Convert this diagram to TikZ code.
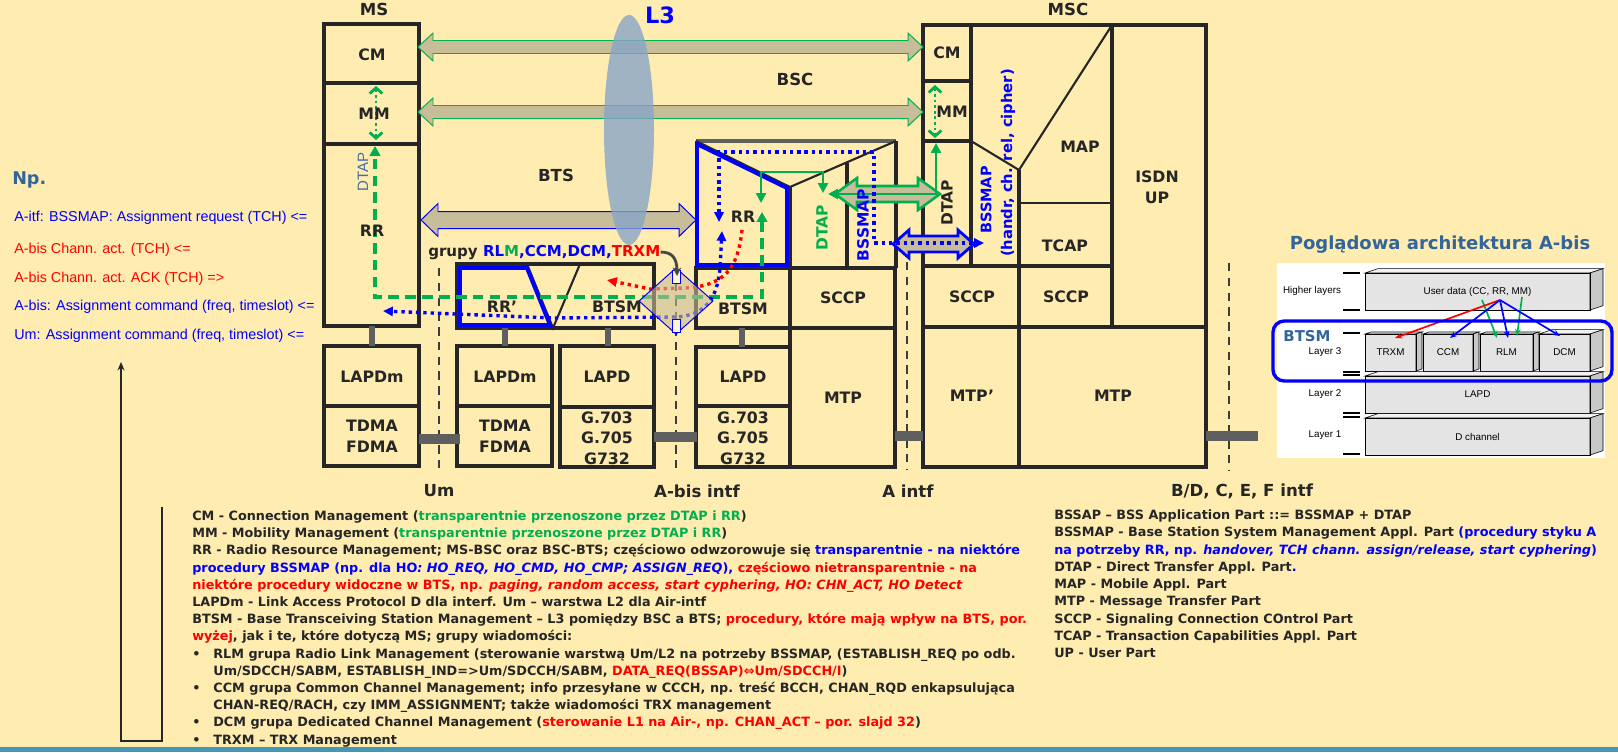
\documentclass[tikz,border=0pt]{standalone}
\usepackage{fontspec}
\setmainfont{DejaVu Sans}[BoldFont={DejaVu Sans Bold},ItalicFont={DejaVu Sans Oblique},BoldItalicFont={DejaVu Sans Bold Oblique}]
\newfontfamily\arialfont{Liberation Sans}
\usepackage{tikz}
\usetikzlibrary{arrows.meta}
\definecolor{bgy}{RGB}{255,236,176}
\definecolor{inkdark}{RGB}{38,38,38}
\definecolor{arrfill}{RGB}{199,189,152}
\definecolor{sgreen}{RGB}{0,176,80}
\definecolor{sblue}{RGB}{0,0,255}
\definecolor{sred}{RGB}{255,0,0}
\definecolor{steel}{RGB}{49,101,155}
\definecolor{lensblue}{RGB}{135,165,200}
\definecolor{bargray}{RGB}{95,95,95}
\definecolor{tealbar}{RGB}{70,150,180}
\definecolor{archfront}{RGB}{228,228,228}
\definecolor{archtop}{RGB}{242,242,242}
\definecolor{archside}{RGB}{200,200,200}
\definecolor{dtapgray}{RGB}{70,110,165}
% fat double arrow: [style]{x1}{x2}{y}{shaft half}{head half}{head length}
\newcommand{\dblarrow}[7][]{%
  \draw[#1] (#2,#4) -- ({#2+#7},{#4-#6}) -- ({#2+#7},{#4-#5}) -- ({#3-#7},{#4-#5})
    -- ({#3-#7},{#4-#6}) -- (#3,#4) -- ({#3-#7},{#4+#6}) -- ({#3-#7},{#4+#5})
    -- ({#2+#7},{#4+#5}) -- ({#2+#7},{#4+#6}) -- cycle;}
% 3d block of the A-bis figure: {x1}{y1}{x2}{y2}{depth}{name}{text}
\newcommand{\archbox}[7]{%
  \fill[archfront] (#1,#2) rectangle (#3,#4);
  \filldraw[fill=archtop, draw=black, line width=0.4pt] (#1,#2) -- ({#1+#5},{#2-#5/3}) -- ({#3+#5},{#2-#5/3}) -- (#3,#2) -- cycle;
  \filldraw[fill=archside, draw=black, line width=0.4pt] (#3,#2) -- ({#3+#5},{#2-#5/3}) -- ({#3+#5},{#4-#5/3}) -- (#3,#4) -- cycle;
  \draw[line width=0.4pt] (#1,#2) rectangle (#3,#4);
  \node[archl] (#6) at ({(#1+#3)/2},{(#2+#4)/2}) {#7};}
\newcommand{\blt}{\makebox[15pt][l]{•}}

\begin{document}
\begin{tikzpicture}[x=0.025cm, y=-0.025cm,
    blk/.style={draw=inkdark, line width=2.2pt},
    sep/.style={draw=inkdark, line width=2.2pt},
    thinsep/.style={draw=inkdark, line width=1.5pt},
    rrblue/.style={draw=sblue, line width=2.8pt},
    lbl/.style={font=\fontsize{11.2}{14.6}\selectfont\bfseries, text=inkdark, inner sep=0pt, align=center},
    bigl/.style={font=\fontsize{11.8}{14}\selectfont\bfseries, text=inkdark, inner sep=0pt},
    vlbl/.style={font=\fontsize{11}{13}\selectfont\bfseries, inner sep=0pt, rotate=90},
    txt/.style={font=\fontsize{9.1}{11}\selectfont\bfseries, text=inkdark, anchor=base west, inner sep=0pt},
    npl/.style={font=\arialfont\fontsize{10.2}{12}\selectfont, anchor=base west, inner sep=0pt},
    archl/.style={font=\arialfont\fontsize{7}{8}\selectfont, inner sep=0pt},
    bar/.style={draw=bargray, line width=4.3pt},
    hbar/.style={draw=bargray, line width=7pt},
    intf/.style={draw=inkdark!90, line width=2pt, dash pattern=on 6pt off 4.5pt},
    fatg/.style={fill=arrfill, draw=sgreen, line width=0.7pt},
    fatb/.style={fill=arrfill, draw=sblue, line width=0.7pt},
    gdash/.style={draw=sgreen, line width=2.6pt, dash pattern=on 7.5pt off 4.5pt,
      arrows={Triangle[length=7pt,width=7.5pt]-Triangle[length=7pt,width=7.5pt]}},
    gsol/.style={draw=sgreen, line width=2pt,
      arrows={Triangle[length=7pt,width=7pt]-Triangle[length=7pt,width=7pt]}},
    gdot/.style={draw=sgreen, line width=2pt, dash pattern=on 2pt off 2pt,
      arrows={Straight Barb[length=4pt,width=9pt]-Straight Barb[length=4pt,width=9pt]}},
    bdot/.style={draw=sblue, line width=2.4pt, dash pattern=on 2.4pt off 2.8pt,
      arrows={Triangle[length=7pt,width=6.5pt]-Triangle[length=7pt,width=6.5pt]}},
    rdot/.style={draw=sred, line width=2.4pt, dash pattern=on 2.4pt off 2.8pt,
      arrows={-Triangle[length=7pt,width=6.5pt]}},
    curv/.style={draw=inkdark!85, line width=2pt, arrows={-Stealth[length=6pt,width=6pt]}},
    note/.style={draw=inkdark, line width=0.8pt, arrows={-Stealth[length=6pt,width=5pt]}},
    abar/.style={line width=1.2pt, arrows={-Stealth[length=5pt,width=4pt]}}
  ]
  \useasboundingbox (0,0) rectangle (1618,752);
  \fill[bgy] (0,0) rectangle (1618,752);
  \fill[tealbar] (0,747) rectangle (1618,752);

  % MS
  \draw[blk] (324,24) rectangle (419,83);
  \draw[blk] (324,83) rectangle (419,144);
  \draw[blk] (324,144) rectangle (419,326);
  \draw[blk] (324,346) rectangle (419,406);
  \draw[blk] (324,406) rectangle (419,466);

  % BTS
  \draw[blk] (457,264) rectangle (654,328);
  \draw[thinsep] (527,264) -- (553,328) -- (580,264);
  \draw[rrblue] (460,268) -- (527,268) -- (550,325) -- (460,325) -- cycle;
  \draw[blk] (457,346) rectangle (552,406);
  \draw[blk] (457,406) rectangle (552,466);
  \draw[blk] (560,346) rectangle (654,407);
  \draw[blk] (560,407) rectangle (654,467);

  % BSC
  \draw[blk] (696,268) rectangle (790,328);
  \draw[blk] (790,268) rectangle (895,328);
  \draw[blk] (790,328) rectangle (895,467);
  \draw[blk] (696,347) rectangle (790,406);
  \draw[blk] (696,406) rectangle (790,467);
  \draw[draw=gray!75!black, line width=2.6pt] (696,141) -- (896,141);
  \draw[sep] (896,141) -- (896,268);
  \draw[sep] (790,187) -- (790,268);
  \draw[sep] (847,163) -- (847,268);
  \draw[thinsep] (696,141) -- (790,187) -- (896,141);
  \draw[rrblue] (697,144) -- (787,188) -- (787,265) -- (697,265) -- cycle;

  % MSC
  \draw[blk] (923,25) rectangle (1206,467);
  \draw[sep] (923,81) -- (971,81);
  \draw[sep] (923,141) -- (971,141);
  \draw[sep] (971,25) -- (971,266);
  \draw[thinsep] (971,141) -- (1019,170) -- (1112,25);
  \draw[sep] (1019,170) -- (1019,467);
  \draw[sep] (1112,25) -- (1112,327);
  \draw[thinsep] (1019,203) -- (1112,203);
  \draw[sep] (923,266) -- (1112,266);
  \draw[sep] (923,327) -- (1206,327);

  % layer links and interfaces
  \draw[bar] (372,326) -- (372,346);
  \draw[bar] (505,328) -- (505,346);
  \draw[bar] (608,328) -- (608,346);
  \draw[bar] (742,328) -- (742,347);
  \draw[intf] (439,268) -- (439,473);
  \draw[intf] (676,268) -- (676,470);
  \draw[intf] (907,262) -- (907,470);
  \draw[intf] (1229,263) -- (1229,470);
  \draw[hbar] (419,439) -- (460,439);
  \draw[hbar] (654,437) -- (697,437);
  \draw[hbar] (895,436) -- (923,436);
  \draw[hbar] (1206,436) -- (1258,436);

  % transparent transfer arrows
  \dblarrow[fatg]{418}{923}{47}{6.5}{14}{15}
  \dblarrow[fatg]{418}{923}{112}{6.5}{14}{15}
  \dblarrow[fatb]{421}{696}{220}{8.5}{16.5}{17}
  \fill[lensblue, opacity=0.8] (629,130) ellipse [x radius=0.625cm, y radius=2.875cm];
  \dblarrow[fill=arrfill, draw=sgreen, line width=1.8pt]{835}{940}{194}{8}{16}{22}
  \dblarrow[fill=arrfill, draw=sblue, line width=2pt]{893}{974}{244}{8}{14}{16}

  % signalling paths
  \coordinate (msrrtop) at (375,146);
  \coordinate (bscrrgd) at (762,212);
  \coordinate (mscmb) at (376,86);
  \coordinate (msmmb) at (376,140);
  \coordinate (msccmb) at (935,85);
  \coordinate (mscmmb) at (935,138);
  \coordinate (bscrrg) at (761,203);
  \coordinate (bscdtapin) at (823,193);
  \coordinate (bscdtapr) at (828,194);
  \coordinate (mscdtapt) at (936,143);
  \coordinate (bscrrbt) at (719,222);
  \coordinate (mscbssin) at (984,243);
  \coordinate (bscrrbb) at (722,231);
  \coordinate (msrrb) at (383,311);
  \coordinate (bscrrr) at (742,230);
  \coordinate (redend) at (607,280);
  \coordinate (dmtop) at (677,276);

  \draw[gdash] (bscrrgd) -- (762,297) -- (375,297) -- (msrrtop);
  \draw[gdot] (mscmb) -- (msmmb);
  \draw[gdot] (msccmb) -- (mscmmb);
  \draw[gsol] (bscrrg) -- (761,172) -- (823,172) -- (bscdtapin);
  \draw[gsol] (bscdtapr) -- (936,194) -- (mscdtapt);
  \draw[bdot] (bscrrbt) -- (719,152) -- (874,152) -- (874,243) -- (mscbssin);
  \draw[bdot] (bscrrbb) -- (720,268) .. controls (717,300) and (705,314) .. (678,317) -- (553,318) -- (msrrb);
  \draw[rdot] (bscrrr) .. controls (738,268) and (725,286) .. (685,288) -- (650,289) -- (redend);

  % A-bis crossing
  \filldraw[fill=arrfill, fill opacity=0.6, draw=sblue, line width=0.7pt]
    (639,301) -- (676,268) -- (713,301) -- (676,334) -- cycle;
  \draw[draw=sblue, line width=0.6pt, fill=bgy!50!white] (672,270) rectangle (680,283);
  \draw[draw=sblue, line width=0.6pt, fill=bgy!50!white] (672,319) rectangle (680,332);

  % titles
  \node[bigl] (mslbl) at (374,9) {MS};
  \node[bigl] (msclbl) at (1068,9) {MSC};
  \node[font=\fontsize{16}{18}\selectfont\bfseries, text=sblue, inner sep=0pt] (l3) at (660,15) {L3};
  \node[bigl] (btslbl) at (556,175) {BTS};
  \node[bigl] (bsclbl) at (795,79) {BSC};
  \node[bigl, font=\fontsize{10.7}{13}\selectfont\bfseries, anchor=base west] (grupy) at (428,256)
    {grupy {\color{sblue}RL}{\color{sgreen}M}{\color{sblue},CCM,DCM,}{\color{sred}TRXM}};
  \draw[curv] (grupy.east) .. controls (672,252) and (677,258) .. (dmtop);

  % MS labels
  \node[lbl] (mscm) at (372,55) {CM};
  \node[lbl] (msmm) at (374,114) {MM};
  \node[lbl] (msrr) at (372,231) {RR};
  \node[font=\arialfont\fontsize{10.7}{12}\selectfont, text=dtapgray, rotate=90, inner sep=0pt] (msdtap) at (363,172) {DTAP};
  \node[lbl] (mslapdm) at (372,377) {LAPDm};
  \node[lbl] (mstdma) at (372,436) {TDMA\\FDMA};

  % BTS labels
  \node[lbl] (btsrr) at (502,307) {RR’};
  \node[lbl] (btsbtsm) at (617,307) {BTSM};
  \node[lbl] (btslapdm) at (505,377) {LAPDm};
  \node[lbl] (btstdma) at (505,436) {TDMA\\FDMA};
  \node[lbl] (btslapd) at (607,377) {LAPD};
  \node[lbl] (btsg) at (607,438) {G.703\\G.705\\G732};

  % BSC labels
  \node[lbl] (bscrr) at (743,217) {RR};
  \node[vlbl, text=sgreen] (bscdtap) at (822,228) {DTAP};
  \node[vlbl, text=sblue] (bscbssmap) at (863,225) {BSSMAP};
  \node[lbl] (bscbtsm) at (743,309) {BTSM};
  \node[lbl] (bscsccp) at (843,298) {SCCP};
  \node[lbl] (bscmtp) at (843,398) {MTP};
  \node[lbl] (bsclapd) at (743,377) {LAPD};
  \node[lbl] (bscg) at (743,438) {G.703\\G.705\\G732};

  % MSC labels
  \node[lbl] (msccm) at (947,53) {CM};
  \node[lbl] (mscmm) at (952,112) {MM};
  \node[vlbl, text=inkdark] (mscdtap) at (947,203) {DTAP};
  \node[vlbl, text=sblue, font=\fontsize{10.3}{12}\selectfont\bfseries] (mscbssmap) at (986,200) {BSSMAP};
  \node[vlbl, text=sblue, font=\fontsize{10.5}{12}\selectfont\bfseries] (mschandr) at (1008,163) {(handr, ch. rel, cipher)};
  \node[lbl] (mscmap) at (1080,147) {MAP};
  \node[lbl] (mscisdn) at (1157,187) {ISDN\\UP};
  \node[lbl] (msctcap) at (1065,246) {TCAP};
  \node[lbl] (mscsccpa) at (972,297) {SCCP};
  \node[lbl] (mscsccpb) at (1066,297) {SCCP};
  \node[lbl] (mscmtpa) at (972,396) {MTP’};
  \node[lbl] (mscmtpb) at (1113,396) {MTP};

  % interfaces
  \node[bigl] (umlbl) at (439,491) {Um};
  \node[bigl] (abislbl) at (697,491) {A-bis intf};
  \node[bigl] (albl) at (908,491) {A intf};
  \node[bigl] (bdlbl) at (1242,491) {B/D, C, E, F intf};

  % example sequence
  \node[font=\fontsize{12.5}{14}\selectfont\bfseries, text=steel, anchor=west, inner sep=0pt] (np) at (12,180) {Np.};
  \node[npl, text=sblue] (np1) at (14,221) {A-itf: BSSMAP: Assignment request (TCH) <=};
  \node[npl, text=sred] (np2) at (14,253) {A-bis Chann. act. (TCH) <=};
  \node[npl, text=sred] (np3) at (14,282) {A-bis Chann. act. ACK (TCH) =>};
  \node[npl, text=sblue] (np4) at (14,310) {A-bis: Assignment command (freq, timeslot) <=};
  \node[npl, text=sblue] (np5) at (14,339) {Um: Assignment command (freq, timeslot) <=};
  \coordinate (npend) at (121,362);
  \draw[note] (162,507) -- (162,741) -- (121,741) -- (npend);

  % legend left
  \node[txt] (lg1) at (192,520.5) {CM - Connection Management ({\color{sgreen}transparentnie przenoszone przez DTAP i RR})};
  \node[txt] (lg2) at (192,537.7) {MM - Mobility Management ({\color{sgreen}transparentnie przenoszone przez DTAP i RR})};
  \node[txt] (lg3) at (192,554.9) {RR - Radio Resource Management; MS-BSC oraz BSC-BTS; częściowo odwzorowuje się {\color{sblue}transparentnie - na niektóre}};
  \node[txt] (lg4) at (192,572.1) {{\color{sblue}procedury BSSMAP (np. dla HO\textit{: HO\_REQ, HO\_CMD, HO\_CMP; ASSIGN\_REQ}),} {\color{sred}częściowo nietransparentnie - na}};
  \node[txt] (lg5) at (192,589.3) {{\color{sred}niektóre procedury widoczne w BTS, np. \textit{paging, random access, start cyphering, HO: CHN\_ACT, HO Detect}}};
  \node[txt] (lg6) at (192,606.5) {LAPDm - Link Access Protocol D dla interf. Um – warstwa L2 dla Air-intf};
  \node[txt] (lg7) at (192,623.7) {BTSM - Base Transceiving Station Management – L3 pomiędzy BSC a BTS; {\color{sred}procedury, które mają wpływ na BTS, por.}};
  \node[txt] (lg8) at (192,640.9) {{\color{sred}wyżej}, jak i te, które dotyczą MS; grupy wiadomości:};
  \node[txt] (lg9) at (192,658.1) {\blt RLM grupa Radio Link Management (sterowanie warstwą Um/L2 na potrzeby BSSMAP, (ESTABLISH\_REQ po odb.};
  \node[txt] (lg10) at (192,675.3) {\hspace{15pt}Um/SDCCH/SABM, ESTABLISH\_IND=>Um/SDCCH/SABM, {\color{sred}DATA\_REQ(BSSAP)⇔Um/SDCCH/I})};
  \node[txt] (lg11) at (192,692.5) {\blt CCM grupa Common Channel Management; info przesyłane w CCCH, np. treść BCCH, CHAN\_RQD enkapsulująca};
  \node[txt] (lg12) at (192,709.7) {\hspace{15pt}CHAN-REQ/RACH, czy IMM\_ASSIGNMENT; także wiadomości TRX management};
  \node[txt] (lg13) at (192,726.9) {\blt DCM grupa Dedicated Channel Management ({\color{sred}sterowanie L1 na Air-, np. CHAN\_ACT – por. slajd 32})};
  \node[txt] (lg14) at (192,744.1) {\blt TRXM – TRX Management};

  % legend right
  \node[txt] (lr1) at (1054,519.5) {BSSAP – BSS Application Part ::= BSSMAP + DTAP};
  \node[txt] (lr2) at (1054,536.8) {BSSMAP - Base Station System Management Appl. Part {\color{sblue}(procedury styku A}};
  \node[txt] (lr3) at (1054,554.0) {{\color{sblue}na potrzeby RR, np. \textit{handover, TCH chann. assign/release, start cyphering})}};
  \node[txt] (lr4) at (1054,571.3) {DTAP - Direct Transfer Appl. Part{\color{sblue}.}};
  \node[txt] (lr5) at (1054,588.5) {MAP - Mobile Appl. Part};
  \node[txt] (lr6) at (1054,605.8) {MTP - Message Transfer Part};
  \node[txt] (lr7) at (1054,623.0) {SCCP - Signaling Connection COntrol Part};
  \node[txt] (lr8) at (1054,640.3) {TCAP - Transaction Capabilities Appl. Part};
  \node[txt] (lr9) at (1054,657.5) {UP - User Part};

  % A-bis architecture
  \node[font=\fontsize{12.8}{14}\selectfont\bfseries, text=steel, inner sep=0pt] (archttl) at (1440,245) {Poglądowa architektura A-bis};
  \fill[white] (1277,263) rectangle (1605,458);
  \foreach \yy in {273,310,333,372,375,413,417,454}
    \draw[line width=0.8pt] (1343,\yy) -- (1360,\yy);
  \archbox{1365}{273}{1590}{310}{13}{ud}{User data (CC, RR, MM)}
  \archbox{1365}{334}{1416}{371}{6}{trxm}{TRXM}
  \archbox{1423}{334}{1473}{371}{6}{ccm}{CCM}
  \archbox{1480}{334}{1533}{371}{6}{rlm}{RLM}
  \archbox{1539}{334}{1590}{371}{13}{dcm}{DCM}
  \archbox{1365}{376}{1590}{413}{13}{lapdx}{LAPD}
  \archbox{1365}{418}{1590}{455}{13}{dch}{D channel}
  \node[archl] (hl) at (1312,291) {Higher layers};
  \node[archl] (ly3) at (1325,352) {Layer 3};
  \node[archl] (ly2) at (1325,394) {Layer 2};
  \node[archl] (ly1) at (1325,435) {Layer 1};
  \coordinate (udsrc) at (1500,300);
  \coordinate (trxmtop) at (1395,338);
  \coordinate (ccmtop) at (1450,338);
  \coordinate (rlmtop) at (1508,338);
  \coordinate (dcmtop) at (1560,336);
  \coordinate (gsrca) at (1482,300);
  \coordinate (gdsta) at (1497,338);
  \coordinate (gsrcb) at (1522,297);
  \coordinate (gdstb) at (1517,336);
  \draw[abar, sgreen] (gsrca) -- (gdsta);
  \draw[abar, sgreen] (gsrcb) -- (gdstb);
  \draw[abar, sred] (udsrc) -- (trxmtop);
  \draw[abar, sblue] (udsrc) -- (ccmtop);
  \draw[abar, sblue] (udsrc) -- (rlmtop);
  \draw[abar, sblue] (udsrc) -- (dcmtop);
  \draw[draw=sblue, line width=2.4pt, rounded corners=8pt] (1273,321) rectangle (1612,381);
  \node[font=\fontsize{10.6}{12}\selectfont\bfseries, text=steel, inner sep=0pt] (btsmttl) at (1307,336) {BTSM};
\end{tikzpicture}
\end{document}
